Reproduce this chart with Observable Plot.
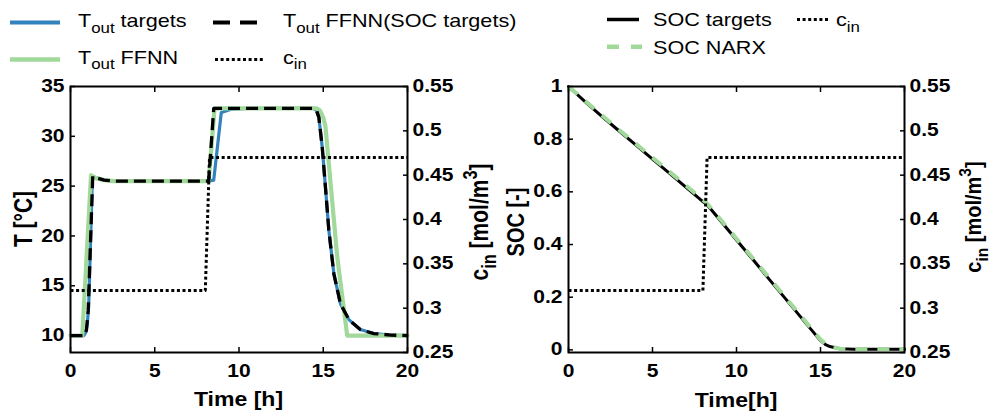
<!DOCTYPE html>
<html><head><meta charset="utf-8">
<script src="https://cdn.jsdelivr.net/npm/d3@7"></script>
<script src="https://cdn.jsdelivr.net/npm/@observablehq/plot@0.6"></script>
<style>
body{margin:0;background:#fff;overflow:hidden}
#wrap{position:relative;width:993px;height:412px;background:#fff}
#wrap svg.layer{position:absolute;left:0;top:0;background:transparent}
</style></head>
<body><div id="wrap"></div>
<script>
// ---------- data ----------
const timeTicks = [0, 5, 10, 15, 20];
const tempTicks = [10, 15, 20, 25, 30, 35];
const cinTicks = [0.25, 0.3, 0.35, 0.4, 0.45, 0.5, 0.55];
const socTicks = [0, 0.2, 0.4, 0.6, 0.8, 1];

// T_out targets
const tTarget = [0, 0.8, 0.9, 1.0, 1.08, 1.3, 1.6, 2.0, 2.6, 3.5, 8.2, 8.5, 8.95, 9.5, 10.5, 14.4, 14.6, 14.74, 14.94, 15.13, 15.33, 15.63, 16.02, 16.52, 17.2, 18.0, 19, 20];
const TTarget = [10, 10, 10.3, 11.2, 13, 26, 25.8, 25.6, 25.5, 25.5, 25.5, 25.6, 32.4, 32.7, 32.8, 32.8, 32.6, 31.9, 28.9, 24.9, 20.6, 16.2, 13.2, 11.6, 10.6, 10.2, 10.05, 10.0];
// T_out FFNN
const tFFNN = [0, 0.7, 1.22, 1.5, 2.0, 2.6, 3.5, 8.2, 8.55, 9.5, 14.6, 14.8, 15.0, 15.13, 15.83, 16.42, 20];
const TFFNN = [10, 10, 26.1, 25.8, 25.6, 25.5, 25.5, 25.5, 32.8, 32.8, 32.8, 32.6, 31.9, 31.0, 17.9, 10, 10];
// T_out FFNN (SOC targets)
const tFFNNsoc = [0, 0.85, 0.95, 1.05, 1.32, 1.6, 2.0, 2.6, 3.5, 8.2, 8.5, 9.5, 14.4, 14.6, 14.74, 14.94, 15.13, 15.33, 15.63, 16.02, 16.52, 17.2, 18.0, 19, 20];
const TFFNNsoc = [10, 10, 10.6, 12.5, 26, 25.8, 25.6, 25.5, 25.5, 25.5, 32.8, 32.8, 32.8, 32.6, 31.9, 28.9, 24.9, 20.6, 16.2, 13.2, 11.6, 10.6, 10.2, 10.05, 10.0];
// c_in
const tCin = [0, 8, 8.25, 20];
const cIn = [0.32, 0.32, 0.47, 0.47];
// SOC
const tSoc = [0, 1, 2, 3, 4, 5, 6, 7, 8, 8.25, 9, 10, 11, 12, 13, 14, 14.96, 15.3, 15.56, 16.15, 17, 18, 20];
const socTargets = [1, 0.942, 0.886, 0.832, 0.778, 0.724, 0.671, 0.617, 0.563, 0.551, 0.494, 0.417, 0.341, 0.264, 0.188, 0.111, 0.038, 0.02, 0.0127, 0.004, 0.002, 0.002, 0.002];
const socNarx = [1, 0.945, 0.89, 0.836, 0.783, 0.73, 0.677, 0.623, 0.569, 0.556, 0.499, 0.422, 0.346, 0.269, 0.193, 0.116, 0.042, 0.022, 0.013, 0.004, 0.002, 0.002, 0.002];

// ---------- styling ----------
const FONT = '"Liberation Sans", Arial, Helvetica, sans-serif';
const BLUE = "#3182bd", GREEN = "#a1d99b";
const STRETCH = 1.2;
const fmt = d => String(+d.toFixed(2));
const pts = (xs, ys) => xs.map((x, i) => ({x, y: ys[i]}));

const W = 993, H = 412, TOP = 86, BOTTOM = 60;
const panels = {left: {ml: 70, mr: W - 407}, right: {ml: 568, mr: W - 904}};

function layer(p, yDomain, marks) {
  return Plot.plot({
    width: W, height: H,
    marginLeft: p.ml, marginRight: p.mr, marginTop: TOP, marginBottom: BOTTOM,
    x: {domain: [0, 20], axis: null},
    y: {domain: yDomain, axis: null},
    style: {fontFamily: FONT, fontSize: "17.5px", fontWeight: "bold", color: "black", background: "transparent"},
    marks
  });
}
function frameAxes(xT, yT, yFmt) {
  return [
    Plot.axisX(xT, {anchor: "bottom", tickSize: 0, tickPadding: 12, tickFormat: d => String(d), label: null}),
    Plot.axisX(xT, {anchor: "bottom", tickSize: -5, fill: null, label: null, strokeWidth: 1.5}),
    Plot.axisX(xT, {anchor: "top", tickSize: -5, fill: null, label: null, strokeWidth: 1.5}),
    Plot.axisY(yT, {anchor: "left", tickSize: 0, tickPadding: 6, tickFormat: yFmt, label: null}),
    Plot.axisY(yT, {anchor: "left", tickSize: -5, fill: null, label: null, strokeWidth: 1.5})
  ];
}
function rightAxes() {
  return [
    Plot.axisY(cinTicks, {anchor: "right", tickSize: 0, tickPadding: 5, tickFormat: fmt, label: null}),
    Plot.axisY(cinTicks, {anchor: "right", tickSize: -5, fill: null, label: null, strokeWidth: 1.5})
  ];
}
const dotted = {stroke: "black", strokeWidth: 3, strokeDasharray: "3,2.6", strokeLinecap: "butt"};

const layers = [
  layer(panels.left, [8.3, 35], [
    ...frameAxes(timeTicks, tempTicks, d => String(d)),
    Plot.line(pts(tTarget, TTarget), {x: "x", y: "y", stroke: BLUE, strokeWidth: 3.2, strokeLinejoin: "round"}),
    Plot.line(pts(tFFNN, TFFNN), {x: "x", y: "y", stroke: GREEN, strokeWidth: 4.2, strokeLinejoin: "round"}),
    Plot.line(pts(tFFNNsoc, TFFNNsoc), {x: "x", y: "y", stroke: "black", strokeWidth: 3.3, strokeDasharray: "12,6", strokeLinecap: "butt"}),
    Plot.frame({stroke: "black", strokeWidth: 2})
  ]),
  layer(panels.left, [0.25, 0.55], [
    ...rightAxes(),
    Plot.line(pts(tCin, cIn), {x: "x", y: "y", ...dotted})
  ]),
  layer(panels.right, [-0.01, 1], [
    ...frameAxes(timeTicks, socTicks, fmt),
    Plot.line(pts(tSoc, socTargets), {x: "x", y: "y", stroke: "black", strokeWidth: 3, strokeLinejoin: "round"}),
    Plot.line(pts(tSoc, socNarx), {x: "x", y: "y", stroke: GREEN, strokeWidth: 4, strokeDasharray: "12,10", strokeLinecap: "butt"}),
    Plot.frame({stroke: "black", strokeWidth: 2})
  ]),
  layer(panels.right, [0.25, 0.55], [
    ...rightAxes(),
    Plot.line(pts(tCin, cIn), {x: "x", y: "y", ...dotted})
  ])
];
const wrap = document.getElementById("wrap");
for (const svg of layers) {
  svg.classList.add("layer");
  svg.querySelectorAll("text").forEach(t => {
    t.setAttribute("transform", (t.getAttribute("transform") || "") + ` scale(${STRETCH},1)`);
  });
  wrap.appendChild(svg);
}

// ---------- overlay: legends and axis titles ----------
const ov = d3.select(wrap).append("svg").attr("class", "layer")
  .attr("width", W).attr("height", H).style("font-family", FONT);

function rich(g, parts, size) {
  const text = g.append("text").attr("font-size", size);
  let shift = 0;
  for (const [s, kind] of parts) {
    const ts = text.append("tspan").text(s);
    let target = 0;
    if (kind === "sub") { ts.attr("font-size", size * 0.78); target = size * 0.32; }
    if (kind === "sup") { ts.attr("font-size", size * 0.78); target = -size * 0.45; }
    ts.attr("dy", target - shift);
    shift = target;
  }
  return text;
}
function legendItem(x1, x2, ly, stroke, width, dash, tx, ty, parts) {
  ov.append("line").attr("x1", x1).attr("x2", x2).attr("y1", ly).attr("y2", ly)
    .attr("stroke", stroke).attr("stroke-width", width).attr("stroke-dasharray", dash || null);
  const g = ov.append("g").attr("transform", `translate(${tx},${ty}) scale(${STRETCH},1)`);
  rich(g, parts, 18);
}
// left legend
legendItem(10, 60, 22.5, BLUE, 4, null, 78, 27, [["T"], ["out", "sub"], [" targets"]]);
legendItem(213, 265, 22.5, "black", 4, "17,10", 283, 27, [["T"], ["out", "sub"], [" FFNN(SOC targets)"]]);
legendItem(10, 60, 59.5, GREEN, 4.5, null, 78, 63.5, [["T"], ["out", "sub"], [" FFNN"]]);
legendItem(215, 265, 59.5, "black", 3, "3,2.6", 283, 63.5, [["c"], ["in", "sub"]]);
// right legend
legendItem(607, 639, 19.5, "black", 3.5, null, 653, 26, [["SOC targets"]]);
legendItem(797, 830, 19.5, "black", 3, "3,2.6", 836, 26, [["c"], ["in", "sub"]]);
legendItem(607, 642, 46.7, GREEN, 4.5, "12,12", 653, 54, [["SOC NARX"]]);

function title(x, y, rot, parts, size, s = STRETCH) {
  const g = ov.append("g").attr("transform",
    rot ? `translate(${x},${y}) rotate(-90) scale(1,${s})` : `translate(${x},${y}) scale(${s * 0.96},1)`);
  rich(g, parts, size).attr("text-anchor", "middle").attr("font-weight", "bold").attr("y", size * 0.36);
}
title(23, 219, true, [["T [°C]"]], 21);
title(238.5, 399, false, [["Time [h]"]], 20);
title(479, 222, true, [["c"], ["in", "sub"], [" [mol/m"], ["3", "sup"], ["]"]], 21);
title(515, 222, true, [["SOC [-]"]], 20);
title(973, 217, true, [["c"], ["in", "sub"], [" [mol/m"], ["3", "sup"], ["]"]], 20, 1.1);
title(736, 400, false, [["Time[h]"]], 20);
</script>
</body></html>
